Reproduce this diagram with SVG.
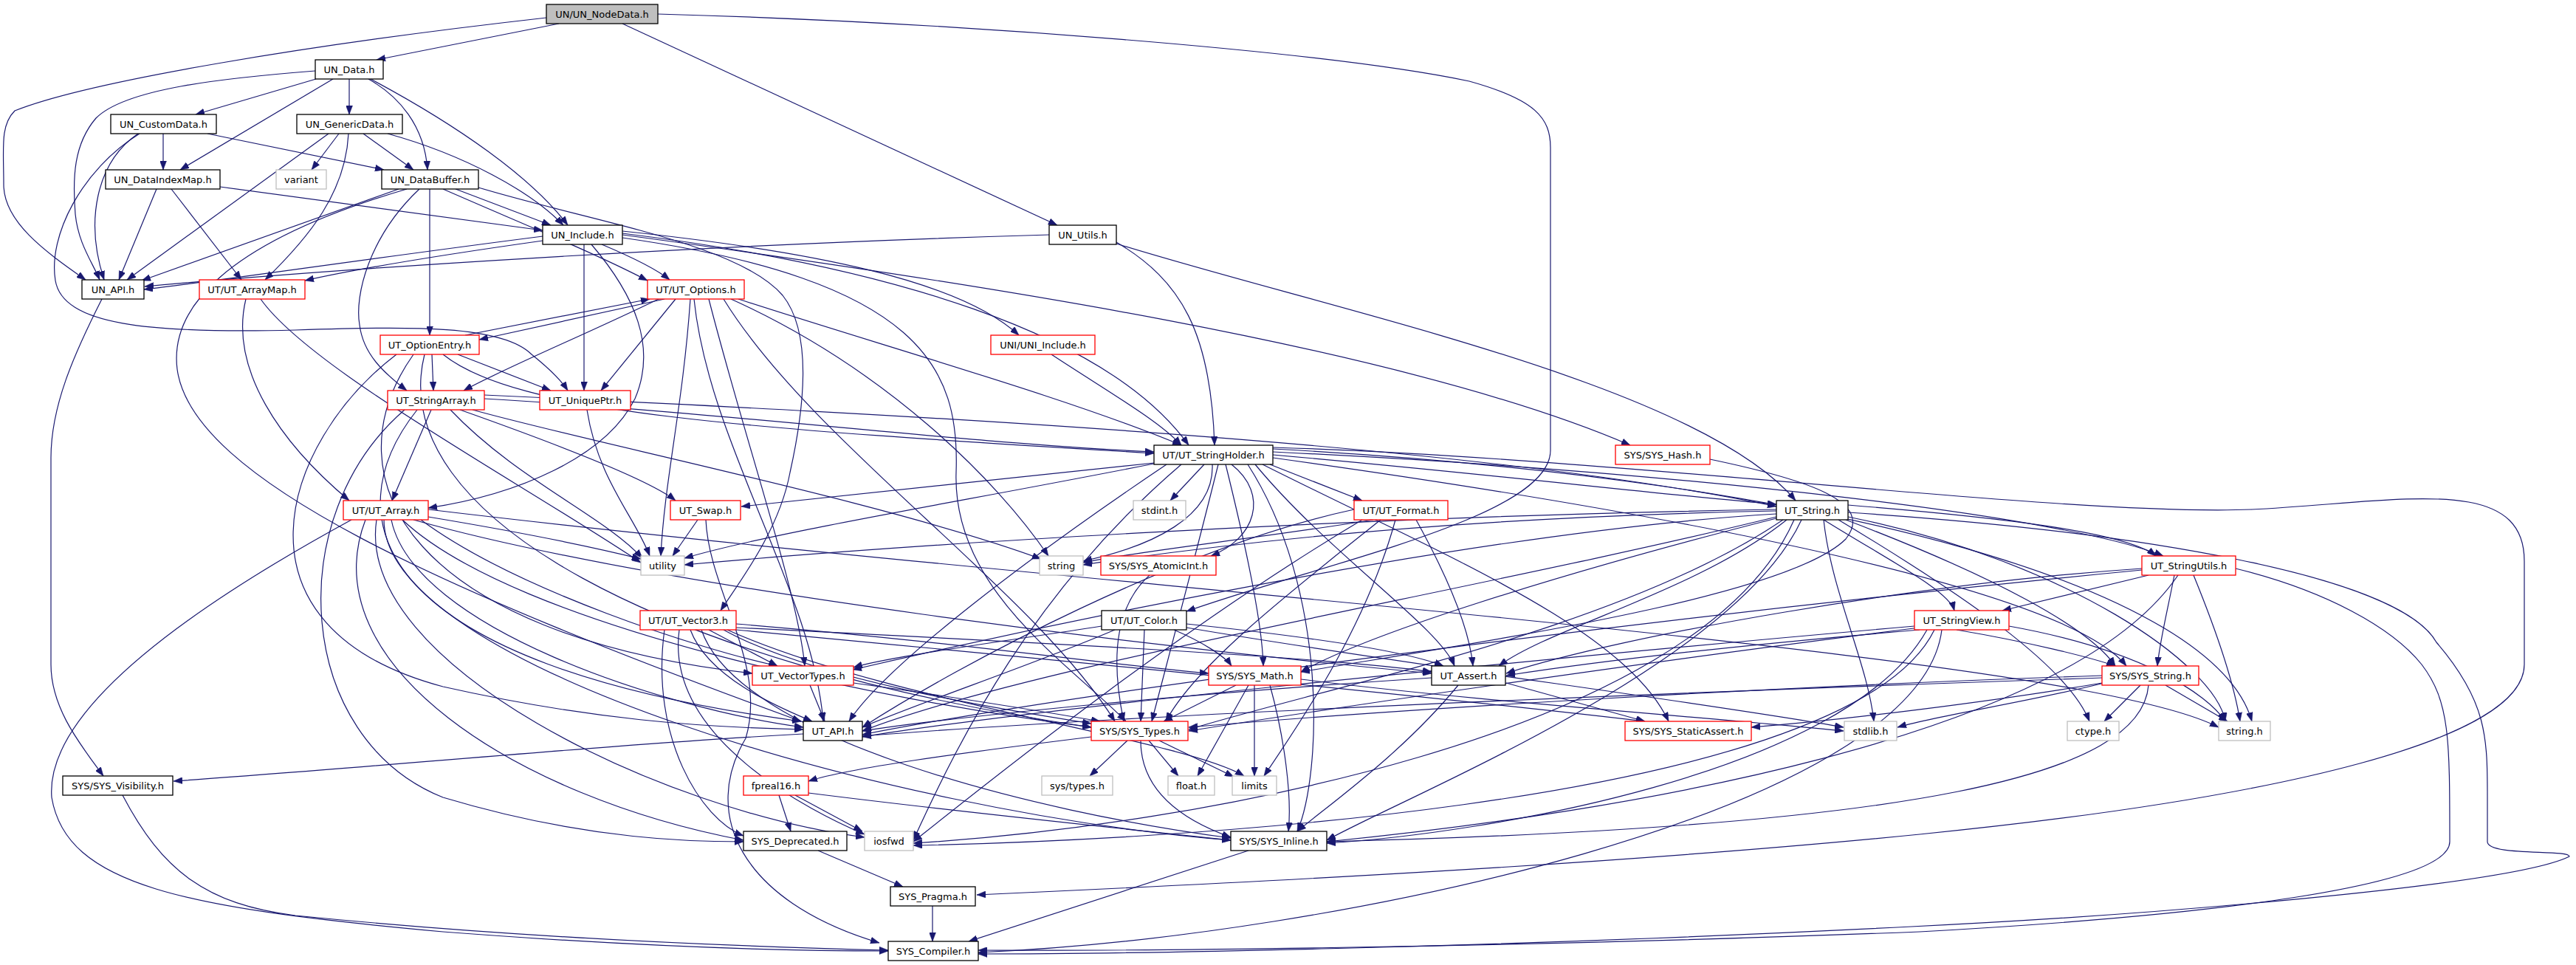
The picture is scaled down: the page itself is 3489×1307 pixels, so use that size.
<svg xmlns="http://www.w3.org/2000/svg" width="3489" height="1307" viewBox="0 0 3489 1307">
<style>
.n rect{fill:#fff;stroke:#000;stroke-width:1.3}
.n.r rect{stroke:#f00}
.n.g rect{stroke:#bfbfbf}
.n.root rect{fill:#bfbfbf}
.n text{font-family:"DejaVu Sans",sans-serif;font-size:13px;text-anchor:middle;fill:#000}
#edges path{fill:none;stroke:#191970;stroke-width:1.2;marker-end:url(#a)}
</style>
<defs>
<marker id="a" markerUnits="userSpaceOnUse" markerWidth="12" markerHeight="9" refX="12" refY="4.5" orient="auto"><path d="M0,0 L12,4.5 L0,9 z" fill="#191970" stroke="#191970" stroke-width="0.5"/></marker>
</defs>
<rect width="3489" height="1307" fill="#fff"/>
<g id="edges">
<path d="M757 32 L510 81"/>
<path d="M740 24 C420 60 120 110 20 150 C0 170 5 200 5 250 C5 300 60 340 116 379"/>
<path d="M843 32 L1432 305"/>
<path d="M891 19 C1300 30 1800 70 1990 110 C2080 135 2100 160 2100 200 L2100 610 C2100 700 1800 760 1607 828"/>
<path d="M427 96 C300 106 170 120 130 160 C100 195 98 240 102 290 C106 330 125 355 135 379"/>
<path d="M428 107 L265 155"/>
<path d="M451 107 L244 230"/>
<path d="M473 107 L473 155"/>
<path d="M499 107 C540 130 575 170 579 230"/>
<path d="M502 107 C620 170 720 240 769 305"/>
<path d="M187 181 C130 220 115 300 141 379"/>
<path d="M189 181 C110 230 65 320 75 380 C85 440 200 452 400 447 C560 442 680 440 720 480 C745 500 760 515 769 529"/>
<path d="M221 181 L221 230"/>
<path d="M281 181 L520 230"/>
<path d="M445 181 L172 379"/>
<path d="M459 181 L422 230"/>
<path d="M472 181 C468 260 420 320 359 379"/>
<path d="M492 181 L560 230"/>
<path d="M525 181 C630 210 720 260 763 305"/>
<path d="M212 256 L161 379"/>
<path d="M232 256 L327 379"/>
<path d="M298 253 L735 312"/>
<path d="M540 256 L192 380"/>
<path d="M617 256 L746 305"/>
<path d="M600 256 C700 300 800 340 877 380"/>
<path d="M582 256 L582 454"/>
<path d="M568 256 C500 320 480 400 487 440 C492 480 520 505 551 529"/>
<path d="M648 254 C800 300 1000 330 1060 400 C1100 450 1090 550 1070 640 C1055 720 1000 790 976 827"/>
<path d="M551 256 C300 330 230 420 240 500 C260 650 600 800 1085 977"/>
<path d="M735 320 C500 350 300 380 195 392"/>
<path d="M735 326 C600 345 480 365 413 380"/>
<path d="M815 331 C860 350 890 365 907 379"/>
<path d="M791 331 L791 529"/>
<path d="M801 331 C860 400 890 470 860 540 C820 620 700 670 580 688"/>
<path d="M843 313 C1100 340 1300 380 1380 454"/>
<path d="M843 316 C1200 360 1500 450 1610 603"/>
<path d="M843 318 C1300 380 1900 470 2208 603"/>
<path d="M843 322 C1250 380 1300 500 1295 640 C1290 800 1450 900 1525 977"/>
<path d="M1421 318 C1000 330 500 360 196 388"/>
<path d="M1512 328 C1600 380 1640 450 1645 603"/>
<path d="M1512 330 C1800 420 2300 520 2432 678"/>
<path d="M333 405 C310 500 380 600 473 678"/>
<path d="M353 405 C420 500 700 650 868 762"/>
<path d="M900 405 L649 460"/>
<path d="M630 454 L880 405"/>
<path d="M892 405 C800 450 680 500 628 529"/>
<path d="M915 405 L814 529"/>
<path d="M1000 405 C1200 470 1450 540 1600 603"/>
<path d="M935 405 C925 550 900 650 895 753"/>
<path d="M990 405 C1200 500 1350 650 1420 753"/>
<path d="M940 405 C960 600 1100 800 1115 977"/>
<path d="M960 405 C1010 600 1080 800 1090 902"/>
<path d="M980 405 C1100 600 1400 800 1510 977"/>
<path d="M585 480 L587 529"/>
<path d="M620 480 L746 529"/>
<path d="M600 480 C700 560 1000 580 1563 614"/>
<path d="M537 480 C380 600 300 850 600 930 C800 975 950 985 1088 988"/>
<path d="M560 480 C440 650 560 860 1019 912"/>
<path d="M575 480 C520 700 900 900 1478 985"/>
<path d="M656 540 C1000 560 1300 600 1563 612"/>
<path d="M584 555 L531 678"/>
<path d="M623 555 C750 600 880 650 915 678"/>
<path d="M640 555 C800 600 1200 680 1410 757"/>
<path d="M610 555 C700 650 820 700 870 756"/>
<path d="M656 535 C1200 560 2000 600 2406 686"/>
<path d="M565 555 C450 700 500 900 1085 977"/>
<path d="M548 555 C380 700 400 1000 600 1080 C800 1140 950 1140 1007 1140"/>
<path d="M795 555 C810 650 860 700 880 753"/>
<path d="M1424 480 C1500 530 1570 570 1600 603"/>
<path d="M1563 627 L1004 686"/>
<path d="M1563 628 C1300 680 1050 720 927 756"/>
<path d="M1631 629 L1585 678"/>
<path d="M1642 629 C1645 700 1560 740 1467 760"/>
<path d="M1668 629 C1720 670 1700 730 1640 753"/>
<path d="M1720 629 L1845 678"/>
<path d="M1724 616 C2000 640 2250 670 2406 683"/>
<path d="M1724 612 C2300 640 2800 700 2930 753"/>
<path d="M1700 629 C1800 750 1950 850 1970 902"/>
<path d="M1710 629 C1950 750 2200 850 2260 977"/>
<path d="M1724 620 C2300 700 2800 800 2880 902"/>
<path d="M1650 629 C1620 750 1580 900 1560 977"/>
<path d="M1580 629 C1400 750 1200 900 1150 977"/>
<path d="M1690 629 C1800 800 1790 1050 1757 1126"/>
<path d="M1600 629 C1400 800 1300 1000 1237 1138"/>
<path d="M1724 608 C2500 650 3000 800 3050 977"/>
<path d="M1660 629 C1690 750 1710 850 1711 902"/>
<path d="M1724 606 C2200 620 2800 700 3050 690 C3250 680 3419 640 3419 760 L3419 900 C3419 1000 3100 1080 2600 1130 C2200 1170 1700 1195 1323 1212"/>
<path d="M2316 622 C2450 650 2540 680 2500 730 C2420 810 2000 870 1762 910"/>
<path d="M945 704 L911 753"/>
<path d="M956 704 C960 800 1040 900 1010 1000 C950 1100 1000 1220 1191 1277"/>
<path d="M580 700 C700 720 800 740 868 757"/>
<path d="M530 704 C560 850 900 960 1088 985"/>
<path d="M560 704 C900 800 1600 880 1939 912"/>
<path d="M545 704 C700 850 1200 950 1478 985"/>
<path d="M520 704 C520 900 1200 1100 1667 1138"/>
<path d="M495 704 C420 900 700 1080 1007 1138"/>
<path d="M476 704 C300 800 60 950 70 1080 C90 1200 250 1230 600 1262 C900 1285 1100 1288 1203 1288"/>
<path d="M510 704 C480 900 900 1100 1171 1134"/>
<path d="M580 690 C1500 800 2800 880 3005 985"/>
<path d="M570 704 C700 800 950 880 1053 902"/>
<path d="M1834 690 C1600 740 1300 900 1168 985"/>
<path d="M1860 704 C1700 730 1550 745 1467 762"/>
<path d="M1870 704 C1750 800 1620 900 1579 977"/>
<path d="M1918 704 C1960 780 1990 850 1995 902"/>
<path d="M1890 704 C1850 850 1760 980 1712 1051"/>
<path d="M1845 704 C1600 850 1350 1050 1237 1140"/>
<path d="M2406 690 C1800 700 1200 740 927 765"/>
<path d="M2406 692 C2000 700 1700 730 1467 765"/>
<path d="M2420 704 C2300 800 2100 850 2030 902"/>
<path d="M2406 700 C2000 800 1400 900 1168 990"/>
<path d="M2415 704 C2200 850 1800 930 1610 988"/>
<path d="M2440 704 C2350 900 1900 1080 1797 1138"/>
<path d="M2430 704 C2300 1000 1600 1120 1237 1142"/>
<path d="M2470 704 C2480 800 2530 900 2538 977"/>
<path d="M2490 704 C2650 800 2800 900 2830 977"/>
<path d="M2503 700 C2800 760 3000 900 3014 977"/>
<path d="M2500 704 C2700 780 2830 850 2865 902"/>
<path d="M2503 684 C2700 700 2880 720 2920 753"/>
<path d="M2470 704 C2560 760 2640 800 2647 827"/>
<path d="M2406 696 C2000 720 1400 850 1155 907"/>
<path d="M2406 702 C2100 780 1850 860 1762 910"/>
<path d="M2503 694 C2900 720 3250 780 3300 870 C3369 950 3369 1000 3369 1080 L3369 1140 C3369 1160 3480 1150 3480 1160 C3400 1200 2900 1240 2589 1255 C2000 1285 1500 1292 1325 1292"/>
<path d="M1557 779 C1500 830 1510 920 1522 977"/>
<path d="M2910 779 L2712 827"/>
<path d="M2901 770 C2600 790 2200 860 2040 912"/>
<path d="M2901 772 C2300 830 1500 930 1168 995"/>
<path d="M2945 779 C2935 830 2925 870 2922 902"/>
<path d="M2971 779 C3000 850 3025 920 3034 977"/>
<path d="M2950 779 C2800 1000 2200 1100 1797 1140"/>
<path d="M3028 770 C3150 800 3240 850 3280 900 C3318 950 3318 1000 3318 1140 C3318 1200 3000 1240 2600 1262 C2000 1285 1500 1288 1325 1287"/>
<path d="M960 853 L1053 902"/>
<path d="M935 853 C960 920 1060 960 1100 977"/>
<path d="M997 845 C1300 870 1500 900 1637 912"/>
<path d="M997 850 C1400 870 1800 890 1939 910"/>
<path d="M980 853 C1100 920 1350 960 1478 980"/>
<path d="M950 853 C1000 1000 1400 1100 1667 1135"/>
<path d="M900 853 C880 1000 950 1110 1007 1132"/>
<path d="M920 853 C900 1000 1100 1100 1171 1130"/>
<path d="M985 853 C1200 950 1600 1000 1685 1051"/>
<path d="M997 853 C1500 900 2000 950 2228 977"/>
<path d="M1492 848 C1350 870 1200 890 1156 904"/>
<path d="M1510 853 C1400 900 1250 950 1168 985"/>
<path d="M1590 853 C1630 870 1660 890 1668 902"/>
<path d="M1550 853 L1545 977"/>
<path d="M1607 845 C1750 860 1900 880 1955 902"/>
<path d="M1607 850 C1900 900 2300 950 2497 985"/>
<path d="M2600 853 C2400 870 2200 890 2040 915"/>
<path d="M2593 848 C2000 900 1400 960 1168 998"/>
<path d="M2650 853 C2750 870 2830 890 2865 902"/>
<path d="M2721 848 C2900 880 2990 940 3014 977"/>
<path d="M2610 853 C2500 1050 2000 1130 1797 1142"/>
<path d="M2620 853 C2500 1100 1500 1140 1237 1145"/>
<path d="M2630 853 C2600 1100 1800 1270 1325 1290"/>
<path d="M2600 850 C2200 900 1800 960 1610 990"/>
<path d="M1097 928 L1117 977"/>
<path d="M1156 925 C1300 945 1420 965 1490 977"/>
<path d="M1674 928 L1576 977"/>
<path d="M1691 928 L1622 1051"/>
<path d="M1699 928 L1699 1051"/>
<path d="M1720 928 C1740 1000 1750 1080 1745 1126"/>
<path d="M1762 920 C2000 950 2300 970 2497 990"/>
<path d="M1939 918 C1600 940 1300 970 1168 990"/>
<path d="M1975 928 C1900 1020 1800 1090 1757 1126"/>
<path d="M2040 925 L2228 977"/>
<path d="M2899 928 L2850 977"/>
<path d="M2933 928 L3017 977"/>
<path d="M2847 915 C2400 930 1900 960 1610 985"/>
<path d="M2847 918 C2200 940 1500 970 1168 997"/>
<path d="M2847 925 C2700 950 2500 975 2372 985"/>
<path d="M2850 925 C2750 950 2620 970 2570 985"/>
<path d="M2910 928 C2900 1050 2600 1120 1797 1140"/>
<path d="M138 405 C100 480 69 550 69 620 L69 900 C69 960 110 1010 140 1051"/>
<path d="M1088 994 C800 1010 500 1040 235 1058"/>
<path d="M1527 1003 L1476 1051"/>
<path d="M1556 1003 L1596 1051"/>
<path d="M1570 1003 L1671 1052"/>
<path d="M1478 998 C1300 1020 1150 1040 1095 1058"/>
<path d="M1545 1003 C1545 1070 1600 1110 1667 1134"/>
<path d="M1055 1077 L1071 1126"/>
<path d="M1077 1077 L1168 1126"/>
<path d="M1095 1074 C1300 1100 1500 1120 1667 1138"/>
<path d="M1108 1152 L1223 1201"/>
<path d="M1691 1152 L1312 1275"/>
<path d="M1263 1227 L1263 1275"/>
<path d="M166 1077 C220 1180 280 1225 400 1240 C700 1270 1000 1282 1203 1287"/>
</g>
<g id="n_NodeData" class="n root"><rect x="740" y="6" width="151" height="26"/><text x="815.5" y="24">UN/UN_NodeData.h</text></g>
<g id="n_UN_Data" class="n"><rect x="427" y="81" width="92" height="26"/><text x="473" y="99">UN_Data.h</text></g>
<g id="n_UN_CustomData" class="n"><rect x="150" y="155" width="143" height="26"/><text x="221.5" y="173">UN_CustomData.h</text></g>
<g id="n_UN_GenericData" class="n"><rect x="402" y="155" width="143" height="26"/><text x="473.5" y="173">UN_GenericData.h</text></g>
<g id="n_UN_DataIndexMap" class="n"><rect x="143" y="230" width="155" height="26"/><text x="220.5" y="248">UN_DataIndexMap.h</text></g>
<g id="n_variant" class="n g"><rect x="374" y="230" width="68" height="26"/><text x="408" y="248">variant</text></g>
<g id="n_UN_DataBuffer" class="n"><rect x="517" y="230" width="131" height="26"/><text x="582.5" y="248">UN_DataBuffer.h</text></g>
<g id="n_UN_Include" class="n"><rect x="735" y="305" width="108" height="26"/><text x="789" y="323">UN_Include.h</text></g>
<g id="n_UN_Utils" class="n"><rect x="1421" y="305" width="91" height="26"/><text x="1466.5" y="323">UN_Utils.h</text></g>
<g id="n_UN_API" class="n"><rect x="111" y="379" width="84" height="26"/><text x="153" y="397">UN_API.h</text></g>
<g id="n_UT_ArrayMap" class="n r"><rect x="270" y="379" width="143" height="26"/><text x="341.5" y="397">UT/UT_ArrayMap.h</text></g>
<g id="n_UT_Options" class="n r"><rect x="877" y="379" width="131" height="26"/><text x="942.5" y="397">UT/UT_Options.h</text></g>
<g id="n_UT_OptionEntry" class="n r"><rect x="515" y="454" width="134" height="26"/><text x="582" y="472">UT_OptionEntry.h</text></g>
<g id="n_UNI_Include" class="n r"><rect x="1342" y="454" width="141" height="26"/><text x="1412.5" y="472">UNI/UNI_Include.h</text></g>
<g id="n_UT_StringArray" class="n r"><rect x="525" y="529" width="131" height="26"/><text x="590.5" y="547">UT_StringArray.h</text></g>
<g id="n_UT_UniquePtr" class="n r"><rect x="731" y="529" width="123" height="26"/><text x="792.5" y="547">UT_UniquePtr.h</text></g>
<g id="n_UT_StringHolder" class="n"><rect x="1563" y="603" width="161" height="26"/><text x="1643.5" y="621">UT/UT_StringHolder.h</text></g>
<g id="n_SYS_Hash" class="n r"><rect x="2188" y="603" width="128" height="26"/><text x="2252" y="621">SYS/SYS_Hash.h</text></g>
<g id="n_UT_Array" class="n r"><rect x="465" y="678" width="115" height="26"/><text x="522.5" y="696">UT/UT_Array.h</text></g>
<g id="n_UT_Swap" class="n r"><rect x="908" y="678" width="95" height="26"/><text x="955.5" y="696">UT_Swap.h</text></g>
<g id="n_stdint" class="n g"><rect x="1535" y="678" width="71" height="26"/><text x="1570.5" y="696">stdint.h</text></g>
<g id="n_UT_Format" class="n r"><rect x="1834" y="678" width="127" height="26"/><text x="1897.5" y="696">UT/UT_Format.h</text></g>
<g id="n_UT_String" class="n"><rect x="2406" y="678" width="97" height="26"/><text x="2454.5" y="696">UT_String.h</text></g>
<g id="n_utility" class="n g"><rect x="868" y="753" width="59" height="26"/><text x="897.5" y="771">utility</text></g>
<g id="n_string" class="n g"><rect x="1408" y="753" width="59" height="26"/><text x="1437.5" y="771">string</text></g>
<g id="n_SYS_AtomicInt" class="n r"><rect x="1491" y="753" width="156" height="26"/><text x="1569" y="771">SYS/SYS_AtomicInt.h</text></g>
<g id="n_UT_StringUtils" class="n r"><rect x="2901" y="753" width="127" height="26"/><text x="2964.5" y="771">UT_StringUtils.h</text></g>
<g id="n_UT_Vector3" class="n r"><rect x="867" y="827" width="130" height="26"/><text x="932" y="845">UT/UT_Vector3.h</text></g>
<g id="n_UT_Color" class="n"><rect x="1492" y="827" width="115" height="26"/><text x="1549.5" y="845">UT/UT_Color.h</text></g>
<g id="n_UT_StringView" class="n r"><rect x="2593" y="827" width="128" height="26"/><text x="2657" y="845">UT_StringView.h</text></g>
<g id="n_UT_VectorTypes" class="n r"><rect x="1019" y="902" width="137" height="26"/><text x="1087.5" y="920">UT_VectorTypes.h</text></g>
<g id="n_SYS_Math" class="n r"><rect x="1637" y="902" width="125" height="26"/><text x="1699.5" y="920">SYS/SYS_Math.h</text></g>
<g id="n_UT_Assert" class="n"><rect x="1939" y="902" width="100" height="26"/><text x="1989" y="920">UT_Assert.h</text></g>
<g id="n_SYS_String" class="n r"><rect x="2847" y="902" width="131" height="26"/><text x="2912.5" y="920">SYS/SYS_String.h</text></g>
<g id="n_UT_API" class="n"><rect x="1088" y="977" width="80" height="26"/><text x="1128" y="995">UT_API.h</text></g>
<g id="n_SYS_Types" class="n r"><rect x="1478" y="977" width="131" height="26"/><text x="1543.5" y="995">SYS/SYS_Types.h</text></g>
<g id="n_SYS_StaticAssert" class="n r"><rect x="2201" y="977" width="171" height="26"/><text x="2286.5" y="995">SYS/SYS_StaticAssert.h</text></g>
<g id="n_stdlib" class="n g"><rect x="2498" y="977" width="71" height="26"/><text x="2533.5" y="995">stdlib.h</text></g>
<g id="n_ctype" class="n g"><rect x="2800" y="977" width="70" height="26"/><text x="2835" y="995">ctype.h</text></g>
<g id="n_string_h" class="n g"><rect x="3005" y="977" width="70" height="26"/><text x="3040" y="995">string.h</text></g>
<g id="n_SYS_Visibility" class="n"><rect x="85" y="1051" width="149" height="26"/><text x="159.5" y="1069">SYS/SYS_Visibility.h</text></g>
<g id="n_fpreal16" class="n r"><rect x="1007" y="1051" width="88" height="26"/><text x="1051" y="1069">fpreal16.h</text></g>
<g id="n_sys_types" class="n g"><rect x="1411" y="1051" width="96" height="26"/><text x="1459" y="1069">sys/types.h</text></g>
<g id="n_float" class="n g"><rect x="1582" y="1051" width="63" height="26"/><text x="1613.5" y="1069">float.h</text></g>
<g id="n_limits" class="n g"><rect x="1669" y="1051" width="60" height="26"/><text x="1699" y="1069">limits</text></g>
<g id="n_SYS_Deprecated" class="n"><rect x="1007" y="1126" width="140" height="26"/><text x="1077" y="1144">SYS_Deprecated.h</text></g>
<g id="n_iosfwd" class="n g"><rect x="1171" y="1126" width="66" height="26"/><text x="1204" y="1144">iosfwd</text></g>
<g id="n_SYS_Inline" class="n"><rect x="1667" y="1126" width="130" height="26"/><text x="1732" y="1144">SYS/SYS_Inline.h</text></g>
<g id="n_SYS_Pragma" class="n"><rect x="1206" y="1201" width="115" height="26"/><text x="1263.5" y="1219">SYS_Pragma.h</text></g>
<g id="n_SYS_Compiler" class="n"><rect x="1203" y="1275" width="122" height="26"/><text x="1264" y="1293">SYS_Compiler.h</text></g>
</svg>
